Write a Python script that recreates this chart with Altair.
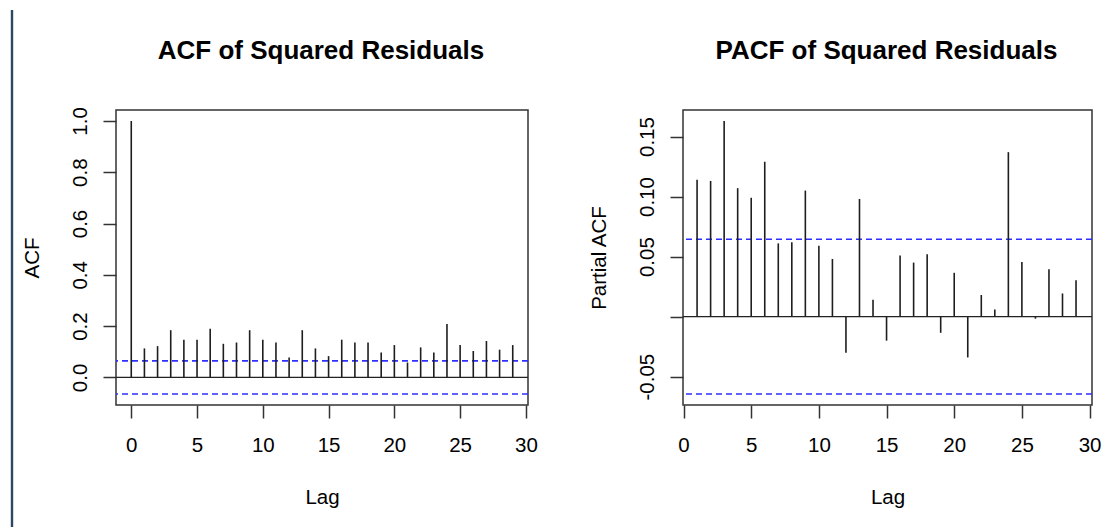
import altair as alt
import pandas as pd

# ---- data ----
acf_lags = list(range(0, 30))
acf_values = [1.0, 0.113, 0.122, 0.184, 0.147, 0.147, 0.190, 0.131, 0.136, 0.184,
              0.147, 0.136, 0.078, 0.184, 0.113, 0.083, 0.147, 0.136, 0.136, 0.097,
              0.126, 0.058, 0.117, 0.097, 0.208, 0.126, 0.103, 0.142, 0.108, 0.126]
pacf_lags = list(range(1, 30))
pacf_values = [0.114, 0.113, 0.163, 0.107, 0.099, 0.129, 0.061, 0.062, 0.105, 0.059,
               0.048, -0.030, 0.098, 0.014, -0.020, 0.051, 0.045, 0.052, -0.0135, 0.0365,
               -0.034, 0.018, 0.006, 0.137, 0.0456, -0.0017, 0.0395, 0.0193, 0.0304]
conf_limit = 0.0645
lag_ticks = [0, 5, 10, 15, 20, 25, 30]
acf_ticks = [0.0, 0.2, 0.4, 0.6, 0.8, 1.0]
pacf_ticks = [-0.05, 0.0, 0.05, 0.10, 0.15]
titles = ["ACF of Squared Residuals", "PACF of Squared Residuals"]
y_titles = ["ACF", "Partial ACF"]

FONT = "Liberation Sans"
FS = 20.5


def panel(lags, values, xdom, ydom, yticks, ylabel_expr, title, ytitle, width, height, border=False):
    df = pd.DataFrame({"lag": lags, "value": values})
    lim_df = pd.DataFrame({"lim": [conf_limit, -conf_limit]})
    xs = alt.Scale(domain=xdom, nice=False, zero=False)
    ys = alt.Scale(domain=ydom, nice=False, zero=False)
    xaxis = alt.Axis(values=lag_ticks, title="Lag", grid=False, domain=False,
                     tickSize=13, tickWidth=1.5, tickColor="#333",
                     labelFont=FONT, labelFontSize=FS, labelColor="#000",
                     labelBaseline="alphabetic", labelPadding=33,
                     labelFlush=False, labelOverlap=False, format="d",
                     titleFont=FONT, titleFontSize=FS, titleFontWeight="normal",
                     titleColor="#000", titleBaseline="alphabetic",
                     titleY=98, titleX=width / 2, titleAlign="center")
    yaxis = alt.Axis(values=yticks, title=ytitle, grid=False, domain=False,
                     tickSize=13, tickWidth=1.5, tickColor="#333",
                     labelFont=FONT, labelFontSize=FS, labelColor="#000",
                     labelAngle=270, labelAlign="center", labelBaseline="alphabetic",
                     labelPadding=17, labelFlush=False, labelOverlap=False,
                     labelExpr=ylabel_expr,
                     titleFont=FONT, titleFontSize=FS, titleFontWeight="normal",
                     titleColor="#000", titleAngle=270, titleAlign="center",
                     titleBaseline="alphabetic", titleX=-78, titleY=height / 2)
    spikes = alt.Chart(df).mark_rule(color="#1e1e1e", strokeWidth=1.6).encode(
        x=alt.X("lag:Q", scale=xs, axis=xaxis),
        y=alt.Y("value:Q", scale=ys, axis=yaxis),
        y2=alt.datum(0),
    )
    zero = alt.Chart(pd.DataFrame({"z": [0]})).mark_rule(color="#222", strokeWidth=1.4).encode(
        y=alt.Y("z:Q")
    )
    lims = alt.Chart(lim_df).mark_rule(color="#2f2fff", strokeWidth=1.6, strokeDash=[6, 4]).encode(
        y=alt.Y("lim:Q")
    )
    ttl = alt.Chart(pd.DataFrame({"t": [title]})).mark_text(
        font=FONT, fontSize=26, fontWeight="bold", color="#000",
        align="center", baseline="alphabetic"
    ).encode(text="t:N", x=alt.value(width / 2 - 1), y=alt.value(-51))
    layers = [lims, zero, spikes, ttl]
    if border:
        brd = alt.Chart(pd.DataFrame({"b": [1]})).mark_rule(
            color="#2c4763", strokeWidth=2.4
        ).encode(x=alt.value(-104), y=alt.value(-100), y2=alt.value(height + 123))
        layers.append(brd)
    return alt.layer(*layers).properties(width=width, height=height)


acf_expr = "format(datum.value, '.1f')"
pacf_expr = "datum.value == 0 ? '' : replace(format(datum.value, '.2f'), '\u2212', '-')"

left = panel(acf_lags, acf_values, [-1.16, 30.16], [-0.1076, 1.0426], acf_ticks, acf_expr,
             titles[0], y_titles[0], 412, 295, border=True)
right = panel(pacf_lags, pacf_values, [-0.04, 30.18], [-0.0736, 0.1721], pacf_ticks, pacf_expr,
              titles[1], y_titles[1], 409, 295)

chart = alt.hconcat(left, right, spacing=155, bounds="flush").properties(
    padding={"left": 10, "top": 8, "right": 0, "bottom": 0},
    background="white",
).configure_view(stroke="#333", strokeWidth=1.5)

chart.save("out.html", embed_options={"renderer": "svg", "actions": False})
